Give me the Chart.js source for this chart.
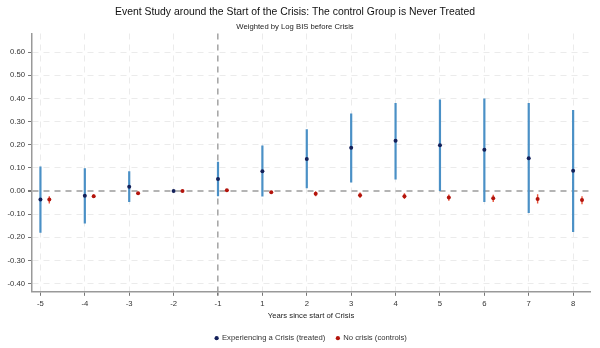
<!DOCTYPE html>
<html>
<head>
<meta charset="utf-8">
<script src="https://cdn.jsdelivr.net/npm/chart.js@4.4.0/dist/chart.umd.min.js"></script>
<style>
  html, body { margin: 0; padding: 0; background: #fff; }
  #wrap { width: 600px; height: 348px; }
</style>
</head>
<body>
<div id="wrap"><canvas id="myChart"></canvas></div>
<script>
// event-time categories (no year 0)
const years = ['-5', '-4', '-3', '-2', '-1', '1', '2', '3', '4', '5', '6', '7', '8'];

// treated countries: coefficient and 95% interval
const treated     = [-0.037, -0.020, 0.019, 0.000, 0.052, 0.086, 0.138, 0.187, 0.217, 0.198, 0.178, 0.142, 0.088];
const treatedLow  = [-0.180, -0.140, -0.047, null, -0.022, -0.024, 0.012, 0.037, 0.050, 0.000, -0.047, -0.095, -0.177];
const treatedHigh = [0.106, 0.098, 0.085, null, 0.127, 0.197, 0.267, 0.335, 0.380, 0.395, 0.400, 0.380, 0.350];

// never-treated controls
const control     = [-0.037, -0.022, -0.009, 0.000, 0.003, -0.005, -0.012, -0.018, -0.022, -0.028, -0.031, -0.034, -0.039];
const controlLow  = [-0.054, -0.030, -0.014, null, -0.001, -0.009, -0.022, -0.030, -0.034, -0.042, -0.047, -0.054, -0.057];
const controlHigh = [-0.022, -0.014, -0.004, null, 0.006, -0.001, -0.001, -0.006, -0.010, -0.015, -0.016, -0.014, -0.022];

const yTicks = [-0.4, -0.3, -0.2, -0.1, 0, 0.1, 0.2, 0.3, 0.4, 0.5, 0.6];
const controlShift = 0.2;   // controls drawn a bit to the right
const crisisIndex = 4;      // position of year -1

// points
function pts(vals, shift) {
  return vals.map((v, i) => ({ x: i + shift, y: v }));
}
// vertical segments separated by gaps
function segs(lo, hi, shift) {
  const out = [];
  for (let i = 0; i < lo.length; i++) {
    if (lo[i] === null) continue;
    out.push({ x: i + shift, y: lo[i] });
    out.push({ x: i + shift, y: hi[i] });
    out.push({ x: i + shift, y: null });
  }
  return out;
}

// keep the legend centred under the plot area, not the whole canvas
const legendUnderPlot = {
  id: 'legendUnderPlot',
  afterLayout(chart) {
    const lg = chart.legend;
    if (!lg) return;
    lg.left = chart.chartArea.left;
    lg.right = chart.chartArea.right;
  }
};

const small = 7.7;
Chart.defaults.font.family = 'Liberation Sans, Arial, sans-serif';
Chart.defaults.color = '#333';

let ctx = document.getElementById('myChart').getContext('2d');
let chart = new Chart(ctx, {
  type: 'scatter',
  plugins: [legendUnderPlot],
  data: {
    datasets: [
      {
        label: 'Experiencing a Crisis (treated)',
        data: pts(treated, 0),
        backgroundColor: '#14215a',
        borderColor: '#14215a',
        pointRadius: 2,
        borderWidth: 0,
        order: 0
      },
      {
        label: 'No crisis (controls)',
        data: pts(control, controlShift),
        backgroundColor: '#b3140c',
        borderColor: '#b3140c',
        pointRadius: 2,
        borderWidth: 0,
        order: 0
      },
      {
        label: 'treated ci',
        type: 'line',
        data: segs(treatedLow, treatedHigh, 0),
        borderColor: '#4a90c6',
        borderWidth: 2.2,
        pointRadius: 0,
        spanGaps: false,
        order: 2
      },
      {
        label: 'control ci',
        type: 'line',
        data: segs(controlLow, controlHigh, controlShift),
        borderColor: '#e8553c',
        borderWidth: 1.4,
        pointRadius: 0,
        spanGaps: false,
        order: 1
      }
    ]
  },
  options: {
    responsive: true,
    maintainAspectRatio: false,
    animation: false,
    layout: { padding: { left: 0, right: 10, top: 0, bottom: -4 } },
    plugins: {
      title: {
        display: true,
        text: 'Event Study around the Start of the Crisis: The control Group is Never Treated',
        color: '#111',
        font: { size: 10.4, weight: 'normal' },
        padding: { top: 6, bottom: 3.8 }
      },
      subtitle: {
        display: true,
        text: 'Weighted by Log BIS before Crisis',
        color: '#222',
        font: { size: small },
        padding: { top: 0, bottom: 2 }
      },
      legend: {
        position: 'bottom',
        labels: {
          usePointStyle: true,
          pointStyle: 'circle',
          boxWidth: 3,
          boxHeight: 3,
          padding: 11,
          font: { size: small },
          color: '#333',
          filter: item => item.datasetIndex < 2
        }
      },
      tooltip: { enabled: false }
    },
    scales: {
      x: {
        type: 'linear',
        min: -0.19,
        max: 12.38,
        afterBuildTicks: axis => {
          axis.ticks = years.map((y, i) => ({ value: i }));
        },
        ticks: {
          color: '#333',
          font: { size: small },
          padding: 3,
          maxRotation: 0,
          callback: v => years[v]
        },
        grid: {
          color: c => c.tick && c.tick.value === crisisIndex ? '#a8a8a8' : '#ebebeb',
          lineWidth: c => c.tick && c.tick.value === crisisIndex ? 1.6 : 1,
          tickColor: '#777',
          tickLength: 4,
          tickBorderDash: []
        },
        border: { color: '#999', width: 1.5, dash: [6, 5] },
        title: {
          display: true,
          text: 'Years since start of Crisis',
          color: '#222',
          font: { size: small },
          padding: { top: 0, bottom: 3 }
        }
      },
      y: {
        min: -0.435,
        max: 0.68,
        afterBuildTicks: axis => {
          axis.ticks = yTicks.map(v => ({ value: v }));
        },
        afterFit: axis => { axis.width = 32; },
        ticks: {
          color: '#333',
          font: { size: small },
          padding: 3,
          callback: v => v.toFixed(2)
        },
        grid: {
          color: c => c.tick && Math.abs(c.tick.value) < 1e-9 ? '#b4b4b4' : '#ebebeb',
          lineWidth: c => c.tick && Math.abs(c.tick.value) < 1e-9 ? 2 : 1,
          tickColor: '#777',
          tickLength: 4,
          tickBorderDash: []
        },
        border: { color: '#999', width: 1.5, dash: [6, 5] }
      }
    }
  }
});
</script>
</body>
</html>
